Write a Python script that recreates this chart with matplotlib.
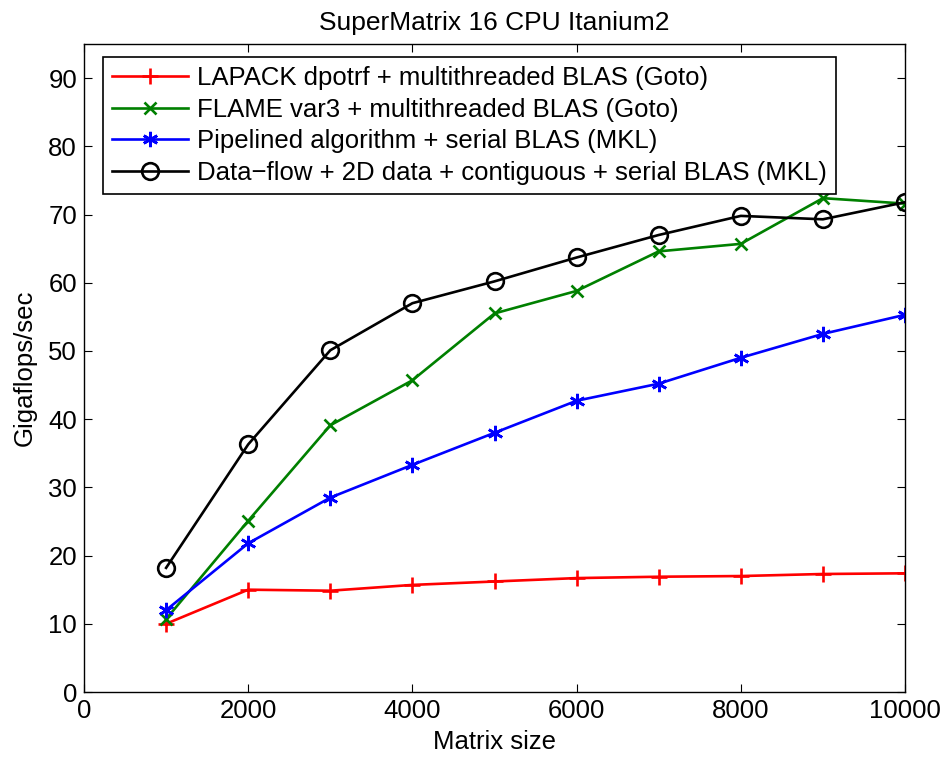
import matplotlib
matplotlib.use("Agg")
import matplotlib.pyplot as plt

plt.rcParams['font.family'] = ['Liberation Sans', 'DejaVu Sans']

sizes = [1000, 2000, 3000, 4000, 5000, 6000, 7000, 8000, 9000, 10000]
lapack = [10.0, 15.0, 14.85, 15.7, 16.2, 16.7, 16.9, 17.0, 17.3, 17.4]
flame = [10.7, 25.1, 39.1, 45.7, 55.5, 58.8, 64.6, 65.7, 72.4, 71.6]
pipelined = [12.0, 21.8, 28.5, 33.3, 38.0, 42.7, 45.2, 49.0, 52.5, 55.3]
dataflow = [18.2, 36.3, 50.1, 57.0, 60.2, 63.7, 67.0, 69.8, 69.3, 71.8]

labels = ["LAPACK dpotrf + multithreaded BLAS (Goto)",
          "FLAME var3 + multithreaded BLAS (Goto)",
          "Pipelined algorithm + serial BLAS (MKL)",
          "Data\u2212flow + 2D data + contiguous + serial BLAS (MKL)"]

fig = plt.figure(figsize=(9.4, 7.58), dpi=100)
ax = fig.add_axes([84/940, 66/758, (905-84)/940, (692-44)/758])

lw = 1.9
ax.plot(sizes, lapack, color=(1, 0, 0), marker='+', markersize=12, mew=1.9, lw=lw, label=labels[0])
ax.plot(sizes, flame, color=(0, 0.5, 0), marker='x', markersize=9, mew=1.9, lw=lw, label=labels[1])
ax.plot(sizes, pipelined, color=(0, 0, 1), marker=(6, 2, 0), markersize=11, mew=1.9, lw=lw, label=labels[2])
ax.plot(sizes, dataflow, color='black', marker='o', markersize=12, mew=1.9, mfc='none', lw=lw, label=labels[3])

ax.set_xlim(0, 10000)
ax.set_ylim(0, 95)
ax.set_xticks([0, 2000, 4000, 6000, 8000, 10000])
ax.set_yticks(range(0, 91, 10))
ax.tick_params(direction='in', top=True, right=True, labelsize=18.5, length=6, width=0.8, pad=5)
for s in ax.spines.values():
    s.set_linewidth(1.0)

ax.set_xlabel("Matrix size", fontsize=18.5, labelpad=5)
ax.set_ylabel("Gigaflops/sec", fontsize=18.5, labelpad=8)
ax.set_title("SuperMatrix 16 CPU Itanium2", fontsize=19, pad=10)

leg = ax.legend(loc='upper left', bbox_to_anchor=(19/821, 1 - 13/648), fontsize=18.5,
                frameon=True, fancybox=False, edgecolor='black', framealpha=1,
                handlelength=2.95, handletextpad=0.35, labelspacing=0.3, borderpad=0.35,
                borderaxespad=0)
leg.get_frame().set_linewidth(1.2)

fig.savefig("out.png", dpi=100)
